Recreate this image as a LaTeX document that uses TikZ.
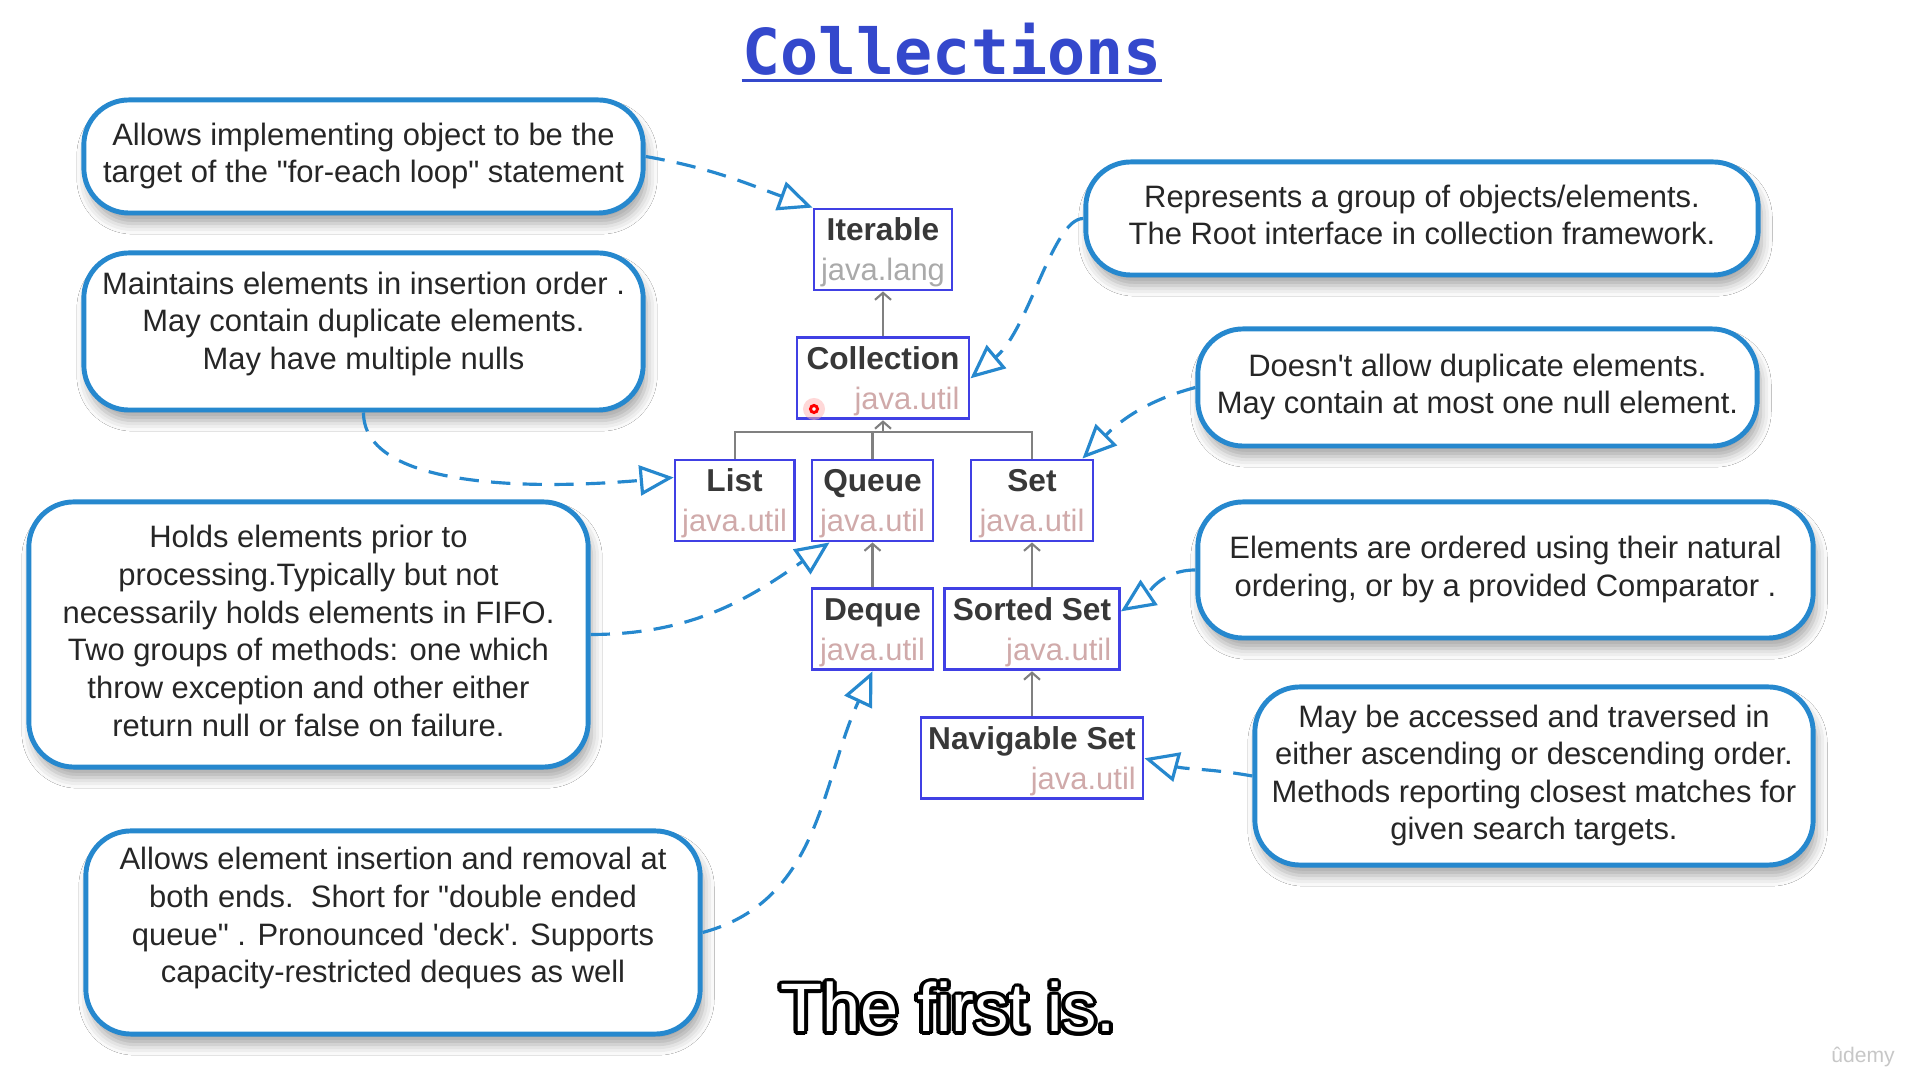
\documentclass[tikz,border=0pt]{standalone}
\usepackage{fontspec}
\setmainfont{Liberation Sans}[Ligatures=TeXOff]
\newfontfamily\titlefont{DejaVu Sans Mono}
\usepackage[copies]{contour}
\usetikzlibrary{arrows.meta, positioning, shadows.blur}

\definecolor{noteblue}{RGB}{38,136,206}
\definecolor{clsblue}{RGB}{64,64,228}
\definecolor{titleblue}{RGB}{52,72,204}
\definecolor{pkgpink}{RGB}{208,170,170}
\definecolor{pkggray}{RGB}{170,170,170}
\definecolor{treegray}{RGB}{128,128,128}

\newcommand{\pkg}[2][pkgpink]{{\fontsize{8.8}{11.4}\selectfont\mdseries\color{#1}#2}}
\contourlength{1.1pt}
\contournumber{16}

\begin{document}
\begin{tikzpicture}[x=0.01cm, y=-0.01cm,
  note/.style={draw=noteblue, line width=1.4pt, rounded corners=0.45cm, fill=white,
               align=center, text=black!85, text depth=2.1pt,
               font=\fontsize{8.8}{10.7}\selectfont,
               blur shadow={shadow xshift=1pt, shadow yshift=-3pt,
                            shadow blur radius=3pt, shadow opacity=35}},
  cls/.style={draw=clsblue, line width=0.8pt, fill=white, minimum height=0.81cm,
              inner sep=2pt, align=center, text=black!78, text depth=0pt,
              font=\fontsize{9}{11.4}\selectfont\bfseries},
  tree/.style={treegray, line width=0.6pt},
  isa/.style={tree, -{Straight Barb[length=0.7mm, width=1.6mm]}},
  link/.style={noteblue, line width=0.9pt, dash pattern=on 5.5pt off 3.5pt,
               -{Triangle[open, length=3.4mm, width=3mm]}}
]
  \useasboundingbox (0,0) rectangle (1908,1077);
  \fill[white] (0,0) rectangle (1908,1077);

  % title
  \node[anchor=base, inner sep=0pt, text=titleblue,
        font={\titlefont\bfseries\fontsize{18}{20}\selectfont}] (title) at (952,75) {Collections};
  \draw[titleblue, line width=0.7pt] ([yshift=-1.6pt]title.base west) -- ([yshift=-1.6pt]title.base east);

  % interfaces
  \node[cls, minimum width=1.38cm] (iter) at (883,249.5) {Iterable\\\pkg[pkggray]{java.lang}};
  \node[cls, minimum width=1.72cm, align=right, below=0.45cm of iter] (coll) {Collection\\\pkg{java.util}};
  \node[cls, minimum width=1.21cm] (queue) at (872.5,500.5) {Queue\\\pkg{java.util}};
  \node[cls, minimum width=1.19cm, left=0.15cm of queue] (list) {List\\\pkg{java.util}};
  \node[cls, minimum width=1.22cm] (set) at (1032,500.5) {Set\\\pkg{java.util}};
  \node[cls, minimum width=1.21cm, below=0.45cm of queue] (deque) {Deque\\\pkg{java.util}};
  \node[cls, minimum width=1.75cm, align=right, below=0.45cm of set] (sset) {Sorted Set\\\pkg{java.util}};
  \node[cls, minimum width=2.22cm, align=right, below=0.45cm of sset] (nset) {Navigable Set\\\pkg{java.util}};

  \coordinate (bar) at (883,432);
  \draw[tree] (list.north) |- (bar) -| (set.north);
  \draw[tree] (queue.north) -- (queue.north |- bar);
  \draw[isa] (bar) -- (coll.south);
  \draw[isa] (coll) -- (iter);
  \draw[isa] (deque) -- (queue);
  \draw[isa] (sset) -- (set);
  \draw[isa] (nset) -- (sset);

  % cursor mark
  \fill[red!30, opacity=0.5] (814,409) circle (1.1mm);
  \draw[red, line width=0.85pt, fill=white] (814,409) circle (0.35mm);

  % notes
  \node[note, minimum width=5.59cm, minimum height=1.13cm] (c1) at (363.5,156.5)
    {Allows implementing object to be the\\target of the "for-each loop" statement};
  \node[note, minimum width=5.59cm, minimum height=1.57cm, text depth=6.1pt] (c2) at (363.5,331.5)
    {Maintains elements in insertion order .\\May contain duplicate elements.\\May have multiple nulls};
  \node[note, minimum width=5.59cm, minimum height=2.65cm] (c3) at (308.5,634.5)
    {Holds elements prior to\\processing.Typically but not\\necessarily holds elements in FIFO.\\Two groups of methods: one which\\throw exception and other either\\return null or false on failure.};
  \node[note, minimum width=6.14cm, minimum height=2.03cm, text depth=9.9pt] (c4) at (393,932.5)
    {Allows element insertion and removal at\\both ends.\ \ Short for "double ended\\queue" . Pronounced 'deck'. Supports\\capacity-restricted deques as well};
  \node[note, minimum width=6.72cm, minimum height=1.13cm] (c5) at (1422,218.5)
    {Represents a group of objects/elements.\\The Root interface in collection framework.};
  \node[note, minimum width=5.59cm, minimum height=1.17cm] (c6) at (1477.5,387.5)
    {Doesn't allow duplicate elements.\\May contain at most one null element.};
  \node[note, minimum width=6.15cm, minimum height=1.36cm] (c7) at (1505.5,570)
    {Elements are ordered using their natural\\ordering, or by a provided Comparator .};
  \node[note, minimum width=5.58cm, minimum height=1.78cm] (c8) at (1534,776)
    {May be accessed and traversed in\\either ascending or descending order.\\Methods reporting closest matches for\\given search targets.};

  % note links
  \draw[link] (c1.east) to[out=-10, in=160] (iter.north west);
  \draw[link] (c2.south) to[out=-90, in=-175, out looseness=0.6, in looseness=1.2] ([yshift=0.23cm]list.west);
  \draw[link] (c3.east) to[out=0, in=-145] ([xshift=0.19cm]queue.south west);
  \draw[link] (c4.east) to[out=15, in=-115] (deque.south);
  \draw[link] (c5.west) to[out=180, in=40, out looseness=0.4] (coll.east);
  \draw[link] (c6.west) to[out=195, in=45] ([xshift=-0.12cm]set.north east);
  \draw[link] (c7.west) to[out=180, in=34] ([yshift=0.18cm]sset.east);
  \draw[link] (c8.west) to[out=170, in=-15] (nset.east);

  % caption and logo
  \node[anchor=base, text=white, font=\fontsize{19.5}{22}\selectfont] (sub) at (948,1032)
    {\contour{black}{The first is.}};
  \node[text=black!22, font=\fontsize{6}{7}\selectfont] (logo) at (1863,1057) {ûdemy};
\end{tikzpicture}
\end{document}
